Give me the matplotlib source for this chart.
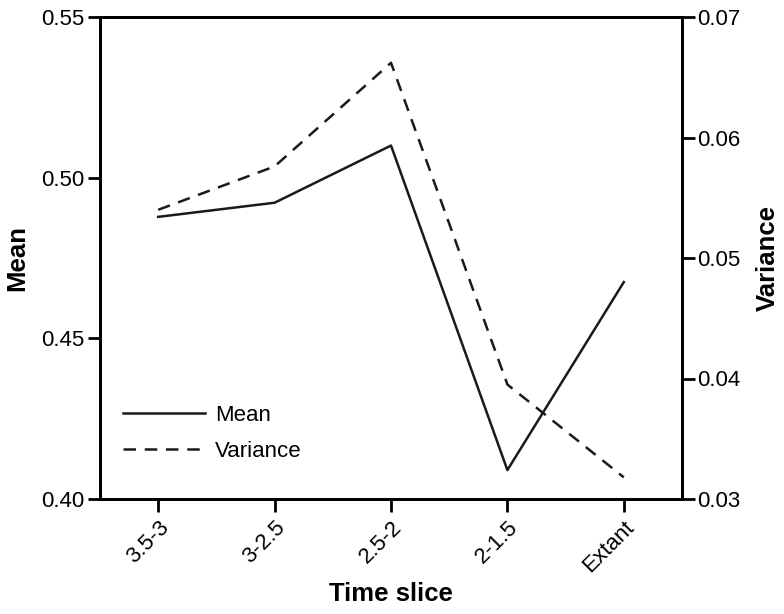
import numpy as np
import matplotlib
matplotlib.use("Agg")
import matplotlib.pyplot as plt

plt.rcParams["font.family"] = ["Liberation Sans", "DejaVu Sans"]

# --------------------------------------------------------------------------- #
#  Data                                                                        #
# --------------------------------------------------------------------------- #

time_slices = ["3.5-3", "3-2.5", "2.5-2", "2-1.5", "Extant"]
mean_vals = [0.4878, 0.4922, 0.5100, 0.4090, 0.4675]
variance_vals = [0.0540, 0.0576, 0.0662, 0.0395, 0.0318]

# --------------------------------------------------------------------------- #
#  Figure                                                                      #
# --------------------------------------------------------------------------- #

fig = plt.figure(figsize=(7.84, 6.14), dpi=100)
ax = fig.add_axes([100 / 784, 1 - 499 / 614, 582 / 784, 482 / 614])
ax2 = ax.twinx()

x = np.arange(len(time_slices))
[l_mean] = ax.plot(x, mean_vals, "-", color="#1a1a1a", lw=1.8, label="Mean")
[l_var] = ax2.plot(x, variance_vals, "--", color="#1a1a1a", lw=1.8,
                   dashes=(5, 3.5), label="Variance")

ax.set_xlim(-0.5, len(time_slices) - 0.5)
ax.set_ylim(0.40, 0.55)
ax2.set_ylim(0.03, 0.07)

ax.set_yticks([0.40, 0.45, 0.50, 0.55])
ax.set_yticklabels(["0.40", "0.45", "0.50", "0.55"])
ax2.set_yticks([0.03, 0.04, 0.05, 0.06, 0.07])
ax2.set_yticklabels(["0.03", "0.04", "0.05", "0.06", "0.07"])

ax.set_xticks(x)
ax.set_xticklabels(time_slices, rotation=45, ha="right", rotation_mode="anchor")

for a in (ax, ax2):
    for s in a.spines.values():
        s.set_linewidth(2.0)
    a.tick_params(axis="both", direction="out", length=9, width=2,
                  labelsize=16, pad=2)
ax.tick_params(axis="x", pad=4)

ax.set_xlabel("Time slice", fontsize=18.5, fontweight="bold", labelpad=4)
ax.set_ylabel("Mean", fontsize=18.5, fontweight="bold", labelpad=9)
ax2.set_ylabel("Variance", fontsize=18.5, fontweight="bold", labelpad=11)

ax.legend([l_mean, l_var], ["Mean", "Variance"], loc="upper left",
          bbox_to_anchor=(0.005, 0.236), frameon=False, fontsize=16,
          handlelength=3.7, handletextpad=0.45, labelspacing=0.65)

fig.savefig("out.png", dpi=100)
